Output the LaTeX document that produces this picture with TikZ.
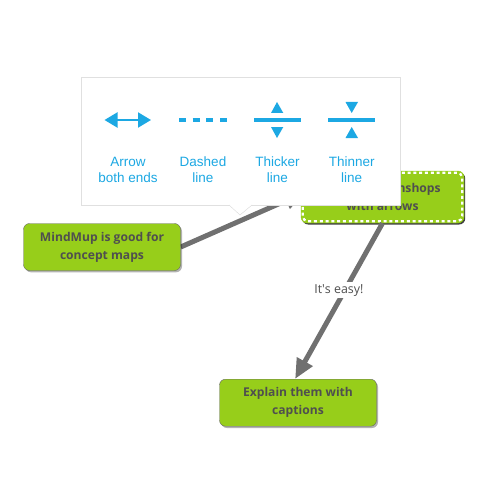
\documentclass[tikz,border=0pt]{standalone}
\usepackage{fontspec}
\setmainfont{Open Sans}
\newfontfamily\popfont{Liberation Sans}
\usetikzlibrary{arrows.meta,shadows,backgrounds}
\definecolor{mapgreen}{HTML}{97CE1A}
\definecolor{mapgray}{HTML}{707070}
\definecolor{maptext}{HTML}{4F4F4F}
\definecolor{popblue}{HTML}{1CA8E3}
\tikzset{
  mapnode/.style={rectangle,rounded corners=6pt,fill=mapgreen,draw=#1,align=center,
    text=maptext,font=\fontsize{12.1}{18}\selectfont\bfseries,inner sep=0pt},
  softshadow/.style={drop shadow={shadow xshift=1.5pt,shadow yshift=-1.8pt,fill=black,opacity=.3}},
  mapline/.style={draw=mapgray,line width=5pt,-{Triangle[width=17pt,length=20pt]}},
  poplabel/.style={text=popblue,align=center,font=\popfont\fontsize{13.5}{16}\selectfont,inner sep=0pt},
  popicon/.style={draw=popblue,line width=3pt},
  poptip/.style={fill=popblue,draw=none}
}
\begin{document}
\begin{tikzpicture}[x=1pt,y=-1pt]
\useasboundingbox (0,0) rectangle (500,500);

\node[mapnode=black!60,softshadow,minimum width=157pt,minimum height=47pt] (good) at (102,247)
  {MindMup is good for\\concept maps};
\node[mapnode=mapgreen,
  drop shadow={shadow xshift=1.2pt,shadow yshift=-1.5pt,fill=black,opacity=.75},
  minimum width=163pt,minimum height=52pt] (shops) at (382.5,197)
  {Shows screenshops\\with arrows};
\draw[white,line width=2.2pt,dash pattern=on 3pt off 2.8pt,rounded corners=5pt]
  ([xshift=2pt,yshift=-2pt]shops.north west) rectangle ([xshift=-2pt,yshift=2pt]shops.south east);
\node[mapnode=black!60,softshadow,minimum width=157pt,minimum height=47pt] (captions) at (298,402.7)
  {Explain them with\\captions};

\begin{scope}[on background layer]
\draw[mapline,shorten >=-4pt] (good.east) -- (shops.178);
\end{scope}
\draw[mapline] (shops.south) -- (captions.97)
  node[pos=.43,xshift=-6pt,fill=white,text=maptext,inner sep=2pt,font=\fontsize{12.4}{14}\selectfont] (easy) {It\textquotesingle s easy!};

\node[rectangle,fill=white,draw=black!12,minimum width=319pt,minimum height=128pt,inner sep=0pt,
  drop shadow={shadow xshift=0pt,shadow yshift=-1pt,fill=black,opacity=.12}] (popup) at (240.5,141) {};
\coordinate (pointl) at (229,205);
\coordinate (pointb) at (240,215);
\coordinate (pointr) at (252,205);
\fill[white] (pointl) -- (pointb) -- (pointr) -- cycle;
\draw[black!15] (pointl) -- (pointb) -- (pointr);

% arrow both ends
\coordinate (arrowl) at (104.5,120);
\coordinate (arrowr) at (151,120);
\draw[draw=popblue,line width=2pt,{Triangle[width=15pt,length=13pt]}-{Triangle[width=15pt,length=13pt]}] (arrowl) -- (arrowr);
\node[poplabel] (arrowtext) at (128,169.5) {Arrow\\both ends};

% dashed line
\coordinate (dashl) at (179,120);
\coordinate (dashr) at (227,120);
\draw[popicon,dash pattern=on 7pt off 6.7pt] (dashl) -- (dashr);
\node[poplabel] (dashtext) at (203,169.5) {Dashed\\line};

% thicker line
\coordinate (thickl) at (254,120);
\coordinate (thickr) at (300.7,120);
\draw[popicon] (thickl) -- (thickr);
\fill[poptip] (277,102) -- (283.3,113) -- (271,113) -- cycle;
\fill[poptip] (277,138) -- (283.3,127) -- (271,127) -- cycle;
\node[poplabel] (thicktext) at (277.5,169.5) {Thicker\\line};

% thinner line
\coordinate (thinl) at (328.3,120);
\coordinate (thinr) at (375,120);
\draw[popicon] (thinl) -- (thinr);
\fill[poptip] (351.7,113) -- (345.5,102) -- (358,102) -- cycle;
\fill[poptip] (351.7,127) -- (345.5,138) -- (358,138) -- cycle;
\node[poplabel] (thintext) at (351.7,169.5) {Thinner\\line};
\end{tikzpicture}
\end{document}
